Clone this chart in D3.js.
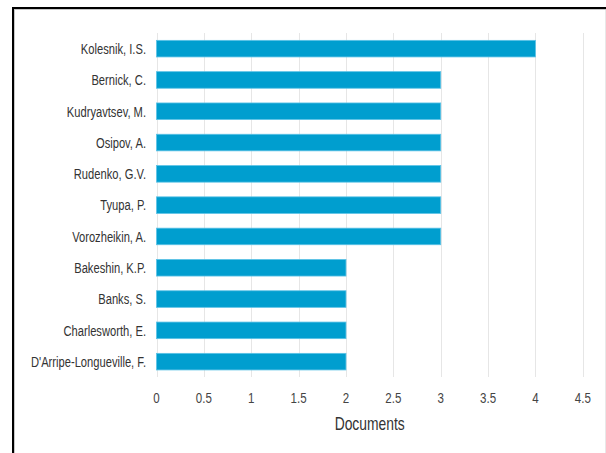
<!DOCTYPE html>
<html><head><meta charset="utf-8">
<script src="https://cdn.jsdelivr.net/npm/d3@7"></script>
<style>html,body{margin:0;padding:0;background:#fff;}svg{display:block;}</style>
</head><body>
<svg id="c" width="606" height="453"></svg>
<script>
const authors = ["Kolesnik, I.S.","Bernick, C.","Kudryavtsev, M.","Osipov, A.","Rudenko, G.V.","Tyupa, P.","Vorozheikin, A.","Bakeshin, K.P.","Banks, S.","Charlesworth, E.","D'Arripe-Longueville, F."];
const documents = [4,3,3,3,3,3,3,2,2,2,2];
const xTicks = [0,0.5,1,1.5,2,2.5,3,3.5,4,4.5];
const xTitle = "Documents";

const svg = d3.select("#c");
const FONT = "'Liberation Sans', Arial, sans-serif";
const SX = 0.77;

// frame
svg.append("line").attr("x1",12).attr("x2",606).attr("y1",8).attr("y2",8).attr("stroke","#000").attr("stroke-width",2);
svg.append("line").attr("x1",13).attr("x2",13).attr("y1",7).attr("y2",453).attr("stroke","#000").attr("stroke-width",2);
svg.append("line").attr("x1",14).attr("x2",606).attr("y1",9.5).attr("y2",9.5).attr("stroke","#c8c8c8").attr("stroke-width",1);
svg.append("line").attr("x1",14.5).attr("x2",14.5).attr("y1",9).attr("y2",453).attr("stroke","#c8c8c8").attr("stroke-width",1);
svg.append("line").attr("x1",605.5).attr("x2",605.5).attr("y1",10).attr("y2",453).attr("stroke","#e8e8e8").attr("stroke-width",1);

const x = d3.scaleLinear().domain([0,4.5]).range([156.5,582.8]);
const y = d3.scaleBand().domain(authors).range([33,377.3]).paddingInner(0.47).paddingOuter(0.235);

// grid
svg.append("g").selectAll("line").data(xTicks).join("line")
  .attr("x1",d=>Math.round(x(d))+0.5).attr("x2",d=>Math.round(x(d))+0.5)
  .attr("y1",33).attr("y2",377)
  .attr("stroke","#e6e6e6").attr("stroke-width",1);

// bars
svg.append("g").selectAll("rect").data(authors).join("rect")
  .attr("x",x(0)).attr("y",d=>y(d))
  .attr("width",(d,i)=>x(documents[i])-x(0)).attr("height",y.bandwidth())
  .attr("fill","#009ecf").attr("stroke","#5cc2e6").attr("stroke-width",0.8);

// category labels
svg.append("g").selectAll("text").data(authors).join("text")
  .attr("transform",d=>`translate(146,${y(d)+y.bandwidth()/2+5.3}) scale(${SX},1)`)
  .attr("text-anchor","end").attr("font-family",FONT).attr("font-size",14.5)
  .attr("fill","#333").text(d=>d);

// x tick labels
svg.append("g").selectAll("text").data(xTicks).join("text")
  .attr("transform",d=>`translate(${x(d)},402.5) scale(${SX},1)`)
  .attr("text-anchor","middle").attr("font-family",FONT).attr("font-size",15)
  .attr("fill","#444").text(d=>d);

// axis title
svg.append("text")
  .attr("transform",`translate(${(x(0)+x(4.5))/2},430) scale(${SX},1)`)
  .attr("text-anchor","middle").attr("font-family",FONT).attr("font-size",18)
  .attr("fill","#333").text(xTitle);
</script>
</body></html>
